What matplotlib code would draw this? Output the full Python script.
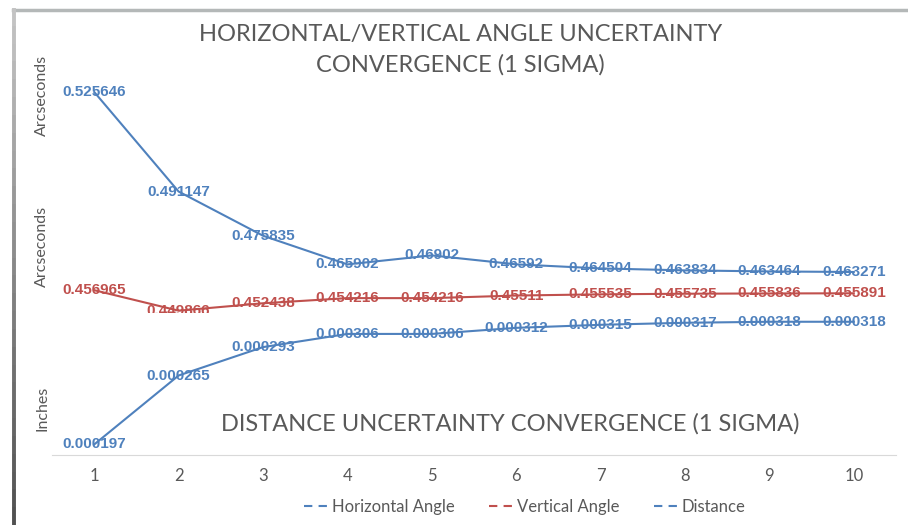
import numpy as np
import matplotlib.pyplot as plt
from matplotlib.lines import Line2D
from matplotlib.collections import LineCollection
from matplotlib.transforms import Bbox

plt.rcParams['font.family'] = ['Lato', 'DejaVu Sans']

iterations = [1, 2, 3, 4, 5, 6, 7, 8, 9, 10]
horizontal = [0.525646, 0.491147, 0.475835, 0.465902, 0.46902,
              0.46592, 0.464504, 0.463834, 0.463464, 0.463271]
vertical = [0.456965, 0.449866, 0.452438, 0.454216, 0.454216,
            0.45511, 0.455535, 0.455735, 0.455836, 0.455891]
distance = [0.000197, 0.000265, 0.000293, 0.000306, 0.000306,
            0.000312, 0.000315, 0.000317, 0.000318, 0.000318]

BLUE = '#4f81bd'
RED = '#c0504d'
GRAY = '#595959'

W, H = 908, 525
fig = plt.figure(figsize=(W / 100, H / 100), dpi=100)

ax = fig.add_axes([52 / W, 1 - 454.6 / H, 844 / W, 375.2 / H])
ax2 = ax.twinx()

ax.plot(iterations, horizontal, color=BLUE, lw=1.5)
ax.plot(iterations, vertical, color=RED, lw=1.5)
ax2.plot(iterations, distance, color=BLUE, lw=1.5)

ax.set_xlim(0.5, 10.5)
ax.set_ylim(0.40, 0.53)
ax2.set_ylim(0.000187, 0.000557)

for a in (ax, ax2):
    for s in a.spines.values():
        s.set_visible(False)
    a.set_yticks([])
ax.spines['bottom'].set_visible(True)
ax.spines['bottom'].set_color('#d9d9d9')
ax.set_xticks(iterations)
ax.tick_params(axis='x', length=0, pad=10, labelsize=12, labelcolor=GRAY)

lbl = dict(ha='center', va='center', fontsize=11, fontweight='bold',
           family=['Liberation Sans', 'DejaVu Sans'])
for x, v in zip(iterations, horizontal):
    ax.text(x, v, f'{v:g}', color=BLUE, **lbl)
for x, v in zip(iterations, vertical):
    t = ax.text(x, v, f'{v:g}', color=RED, **lbl)
    if x == 2:
        # this label is cut off by the distance chart sitting over it
        t.set_clip_on(True)
        t.set_clip_path(None)
        t.set_clip_box(Bbox.from_extents(0, H - 313, W, H))
for x, v in zip(iterations, distance):
    ax2.text(x, v, f'{v:.6f}', color=BLUE, **lbl)

# titles and axis captions
fig.text(461 / W, 1 - 35 / H, 'HORIZONTAL/VERTICAL ANGLE UNCERTAINTY',
         ha='center', va='center', fontsize=17, color=GRAY)
fig.text(460 / W, 1 - 65 / H, 'CONVERGENCE (1 SIGMA)',
         ha='center', va='center', fontsize=17, color=GRAY)
fig.text(510 / W, 1 - 424 / H, 'DISTANCE UNCERTAINTY CONVERGENCE (1 SIGMA)',
         ha='center', va='center', fontsize=17, color=GRAY)
for yc, txt in [(95, 'Arcseconds'), (246, 'Arcseconds'), (408, 'Inches')]:
    fig.text(42 / W, 1 - yc / H, txt, rotation=90, ha='center', va='center',
             fontsize=11.5, color=GRAY)

dash = (0, (4, 3))
handles = [Line2D([], [], color=BLUE, lw=1.5, ls=dash),
           Line2D([], [], color=RED, lw=1.5, ls=dash),
           Line2D([], [], color=BLUE, lw=1.5, ls=dash)]
fig.legend(handles, ['Horizontal Angle', 'Vertical Angle', 'Distance'],
           loc='center', bbox_to_anchor=(525 / W, 1 - 507 / H), ncol=3,
           frameon=False, fontsize=12, labelcolor=GRAY, handlelength=1.6,
           handletextpad=0.05, columnspacing=2.1)

# chart frame: top and left edges
fig.add_artist(Line2D([13 / W, 1], [1 - 9.5 / H, 1 - 9.5 / H],
                      color='#b4b8b8', lw=2.5))
ys = np.linspace(1 - 8 / H, 0, 30)
segs = [[(13.5 / W, ys[i]), (13.5 / W, ys[i + 1])] for i in range(len(ys) - 1)]
cols = plt.cm.Greys(np.linspace(0.35, 0.75, len(segs)))
fig.add_artist(LineCollection(segs, colors=cols, lw=2.8,
                              transform=fig.transFigure))

fig.savefig('out.png', dpi=100)
